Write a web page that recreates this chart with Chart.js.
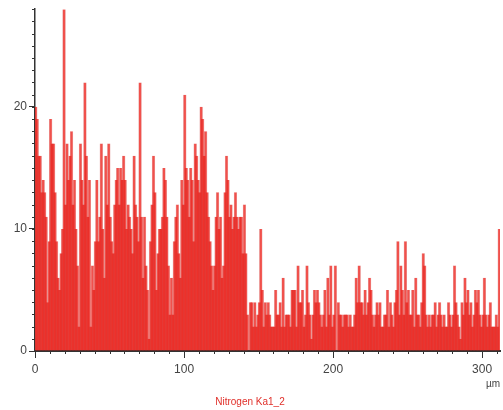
<!DOCTYPE html>
<html>
<head>
<meta charset="utf-8">
<script src="https://cdn.jsdelivr.net/npm/chart.js@4"></script>
<style>
  html, body { margin: 0; padding: 0; background: #fff; }
  #wrap { width: 503px; height: 410px; }
</style>
</head>
<body>
<div id="wrap"><canvas id="profile"></canvas></div>
<script>
// counts per 1 µm step along the line scan
var counts = [
  20, 19, 16, 16, 13, 14, 13, 11, 4, 9, 19, 17, 17, 13, 9, 6, 5, 8, 10, 28,
  12, 17, 14, 16, 18, 12, 14, 10, 7, 2, 17, 14, 12, 22, 16, 11, 14, 2, 7, 5,
  9, 14, 9, 11, 17, 10, 6, 16, 12, 17, 11, 9, 8, 12, 14, 15, 12, 15, 14, 16,
  14, 10, 12, 11, 10, 8, 16, 12, 11, 9, 22, 11, 6, 11, 7, 5, 1, 9, 12, 16,
  13, 5, 8, 10, 10, 11, 15, 14, 11, 7, 3, 6, 3, 9, 11, 12, 8, 6, 14, 12,
  21, 15, 14, 11, 15, 14, 9, 17, 16, 14, 13, 20, 19, 16, 18, 13, 11, 9, 7, 5,
  7, 11, 13, 10, 11, 6, 7, 13, 16, 14, 11, 12, 10, 11, 13, 11, 10, 11, 11, 8,
  12, 8, 3, 0, 4, 4, 2, 4, 2, 3, 4, 10, 5, 2, 4, 3, 4, 3, 2, 2,
  2, 5, 3, 3, 4, 2, 6, 2, 3, 3, 3, 2, 5, 5, 5, 2, 7, 4, 4, 5,
  2, 3, 7, 4, 3, 1, 3, 5, 4, 5, 4, 3, 2, 3, 5, 2, 6, 3, 7, 2,
  3, 7, 0, 4, 3, 3, 2, 3, 3, 3, 2, 3, 2, 2, 3, 6, 4, 7, 4, 4,
  3, 5, 3, 4, 6, 5, 3, 2, 3, 4, 3, 4, 2, 2, 3, 3, 5, 2, 4, 3,
  2, 4, 5, 9, 3, 7, 5, 3, 9, 4, 5, 3, 3, 5, 2, 6, 3, 3, 2, 4,
  8, 7, 3, 2, 3, 2, 3, 3, 4, 2, 3, 4, 3, 2, 3, 2, 2, 4, 3, 2,
  3, 7, 4, 3, 2, 1, 4, 3, 6, 4, 5, 3, 4, 2, 3, 5, 4, 5, 3, 2,
  3, 6, 3, 2, 3, 4, 2, 2, 2, 3, 2, 10
];
// bar centres in µm
var microns = counts.map(function(c, i) { return i + 0.5; });
var xTickStep = 100;
var yTickStep = 10;

var axisColor = '#333';

// short unlabeled ticks between the labelled ones
var minorTicks = {
  id: 'minorTicks',
  afterDraw: function(chart) {
    var ctx = chart.ctx;
    var x = chart.scales.x, y = chart.scales.y;
    ctx.save();
    ctx.strokeStyle = axisColor;
    ctx.lineWidth = 1;
    ctx.beginPath();
    for (var v = 0; v <= y.max; v += 1) {
      var py = Math.round(y.getPixelForValue(v)) + 0.5;
      ctx.moveTo(x.left - 3, py);
      ctx.lineTo(x.left, py);
    }
    for (var u = 0; u <= x.max; u += 10) {
      var px = Math.round(x.getPixelForValue(u)) + 0.5;
      ctx.moveTo(px, y.bottom);
      ctx.lineTo(px, y.bottom + 3);
    }
    ctx.stroke();
    ctx.restore();
  }
};

var ctx = document.getElementById('profile');

new Chart(ctx, {
  type: 'bar',
  data: {
    labels: microns,
    datasets: [{
      label: 'Nitrogen Ka1_2',
      data: counts,
      // wide, see-through bars: overlaps read solid, lone spikes paler
      backgroundColor: 'rgba(236, 32, 26, 0.78)',
      borderColor: 'rgba(190, 28, 28, 0.6)',
      borderWidth: { left: 0.5, right: 0.5, top: 0, bottom: 0 },
      barPercentage: 2.2,
      categoryPercentage: 1
    }]
  },
  options: {
    responsive: true,
    maintainAspectRatio: false,
    animation: false,
    layout: { padding: { top: 8, right: 3, left: 0, bottom: 0 } },
    plugins: {
      legend: { display: false },
      tooltip: { enabled: false },
      title: {
        display: true,
        position: 'bottom',
        text: 'Nitrogen Ka1_2',
        color: '#e0302a',
        font: { family: 'Liberation Sans', size: 10, weight: 'normal' },
        padding: { top: 0, bottom: 2 }
      }
    },
    scales: {
      x: {
        type: 'linear',
        offset: false,
        min: 0,
        max: 312,
        ticks: {
          stepSize: xTickStep,
          includeBounds: false,
          color: '#444',
          font: { family: 'Liberation Sans', size: 12 },
          padding: 4,
          maxRotation: 0
        },
        grid: { drawOnChartArea: false, offset: false, tickLength: 7, tickColor: axisColor },
        border: { color: axisColor, width: 2 },
        title: {
          display: true,
          text: 'µm',
          align: 'end',
          color: '#444',
          font: { family: 'Liberation Sans', size: 10 },
          padding: { top: 0, bottom: 6 }
        },
        afterFit: function(scale) { scale.height = 45; }
      },
      y: {
        min: 0,
        max: 28,
        ticks: {
          stepSize: yTickStep,
          includeBounds: false,
          color: '#444',
          font: { family: 'Liberation Sans', size: 12 },
          padding: 2
        },
        grid: { drawOnChartArea: false, tickLength: 6, tickColor: axisColor },
        border: { color: axisColor, width: 1.5 },
        afterFit: function(scale) { scale.width = 35; }
      }
    }
  },
  plugins: [minorTicks]
});
</script>
</body>
</html>
